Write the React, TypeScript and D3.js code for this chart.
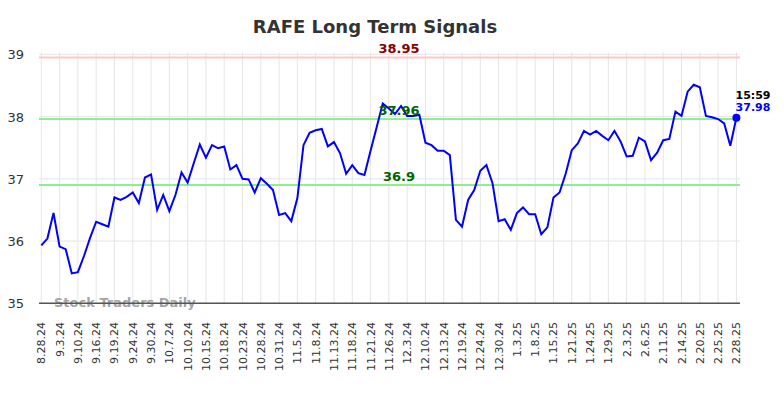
import React from 'react';
import * as d3 from 'd3';

const title = 'RAFE Long Term Signals';

const tickLabels = [
  '8.28.24', '9.3.24', '9.10.24', '9.16.24', '9.19.24', '9.24.24', '9.30.24', '10.7.24',
  '10.10.24', '10.15.24', '10.18.24', '10.23.24', '10.28.24', '10.31.24', '11.5.24', '11.8.24',
  '11.13.24', '11.18.24', '11.21.24', '11.26.24', '12.3.24', '12.10.24', '12.13.24', '12.19.24',
  '12.24.24', '12.30.24', '1.3.25', '1.8.25', '1.15.25', '1.21.25', '1.24.25', '1.29.25',
  '2.3.25', '2.6.25', '2.11.25', '2.14.25', '2.20.25', '2.25.25', '2.28.25',
];

// one label every 3 points
const tickStep = 3;

const prices = [
  35.93, 36.04, 36.45, 35.91, 35.87, 35.48, 35.5, 35.76, 36.05, 36.31,
  36.27, 36.23, 36.7, 36.66, 36.71, 36.78, 36.61, 37.02, 37.07, 36.5,
  36.74, 36.48, 36.74, 37.1, 36.94, 37.25, 37.55, 37.34, 37.54, 37.49,
  37.52, 37.15, 37.22, 37.0, 36.99, 36.78, 37.01, 36.92, 36.82, 36.42,
  36.45, 36.32, 36.69, 37.54, 37.74, 37.78, 37.8, 37.52, 37.59, 37.41,
  37.08, 37.22, 37.09, 37.06, 37.45, 37.83, 38.21, 38.13, 38.04, 38.17,
  38.01, 38.01, 38.03, 37.58, 37.54, 37.45, 37.45, 37.38, 36.34, 36.23,
  36.66, 36.82, 37.13, 37.22, 36.93, 36.32, 36.35, 36.18, 36.45, 36.54,
  36.43, 36.43, 36.11, 36.22, 36.7, 36.78, 37.08, 37.46, 37.57, 37.77,
  37.71, 37.77, 37.69, 37.62, 37.77, 37.6, 37.36, 37.37, 37.66, 37.6,
  37.3, 37.42, 37.62, 37.64, 38.08, 38.01, 38.4, 38.51, 38.47, 38.01,
  37.99, 37.96, 37.89, 37.53, 37.98,
];

const yTicks = [35, 36, 37, 38, 39];
const resistance = 38.95;
const upperSupport = 37.96;
const lowerSupport = 36.9;
const lastTime = '15:59';

export default function App() {
  const width = 784;
  const height = 398;
  const left = 39;
  const right = 740;
  const top = 52;
  const bottom = 303.3;

  const x = d3.scaleLinear().domain([0, prices.length - 1]).range([41.3, 736.4]);
  const y = d3.scaleLinear().domain([35, 39]).range([bottom, 54.3]);

  const line = d3.line<number>()
    .x((_, i) => x(i))
    .y(d => y(d));

  const last = prices[prices.length - 1];
  const font = 'DejaVu Sans, sans-serif';

  return (
    <div style={{ position: 'absolute', left: 0, top: 0 }}>
      <svg width={width} height={height} style={{ display: 'block', background: '#fff' }} fontFamily={font}>
        <text x={375} y={33} textAnchor="middle" fontSize={18} fontWeight="bold" fill="#333">{title}</text>

        {/* grid */}
        {yTicks.map(t => (
          <line key={'h' + t} x1={left} x2={right} y1={y(t)} y2={y(t)} stroke="#e6e6e6" strokeWidth={1} />
        ))}
        {tickLabels.map((_, k) => (
          <line key={'v' + k} x1={x(k * tickStep)} x2={x(k * tickStep)} y1={top} y2={bottom} stroke="#e6e6e6" strokeWidth={1} />
        ))}

        {/* signal lines */}
        <line x1={left} x2={right} y1={y(resistance)} y2={y(resistance)} stroke="#ffc8c8" strokeWidth={2} />
        <line x1={left} x2={right} y1={y(upperSupport)} y2={y(upperSupport)} stroke="#90ee90" strokeWidth={2} />
        <line x1={left} x2={right} y1={y(lowerSupport)} y2={y(lowerSupport)} stroke="#90ee90" strokeWidth={2} />

        <text x={54} y={307} fontSize={13} fontWeight="bold" fill="#999" fillOpacity={0.9}>Stock Traders Daily</text>

        {/* axis */}
        <line x1={left} x2={right} y1={bottom} y2={bottom} stroke="#555" strokeWidth={1.5} />
        {yTicks.map(t => (
          <text key={'yl' + t} x={24} y={y(t) + 5} textAnchor="end" fontSize={13} fill="#333">{t}</text>
        ))}
        {tickLabels.map((lab, k) => (
          <text key={'xl' + k} transform={`translate(${x(k * tickStep) + 4},322) rotate(-90)`} textAnchor="end" fontSize={11} fill="#333">{lab}</text>
        ))}

        <path d={line(prices) ?? ''} fill="none" stroke="#0000ff" strokeWidth={2} strokeLinejoin="miter" />
        <circle cx={x(prices.length - 1)} cy={y(last)} r={4} fill="#0000ff" />

        <text x={399} y={53} textAnchor="middle" fontSize={13} fontWeight="bold" fill="#8b0000">{resistance}</text>
        <text x={399} y={115} textAnchor="middle" fontSize={13} fontWeight="bold" fill="#006400">{upperSupport}</text>
        <text x={399} y={181} textAnchor="middle" fontSize={13} fontWeight="bold" fill="#006400">{lowerSupport}</text>

        <text x={753} y={99} textAnchor="middle" fontSize={11} fontWeight="bold" fill="#000">{lastTime}</text>
        <text x={753} y={111} textAnchor="middle" fontSize={11} fontWeight="bold" fill="#0000ff">{last.toFixed(2)}</text>
      </svg>
    </div>
  );
}
